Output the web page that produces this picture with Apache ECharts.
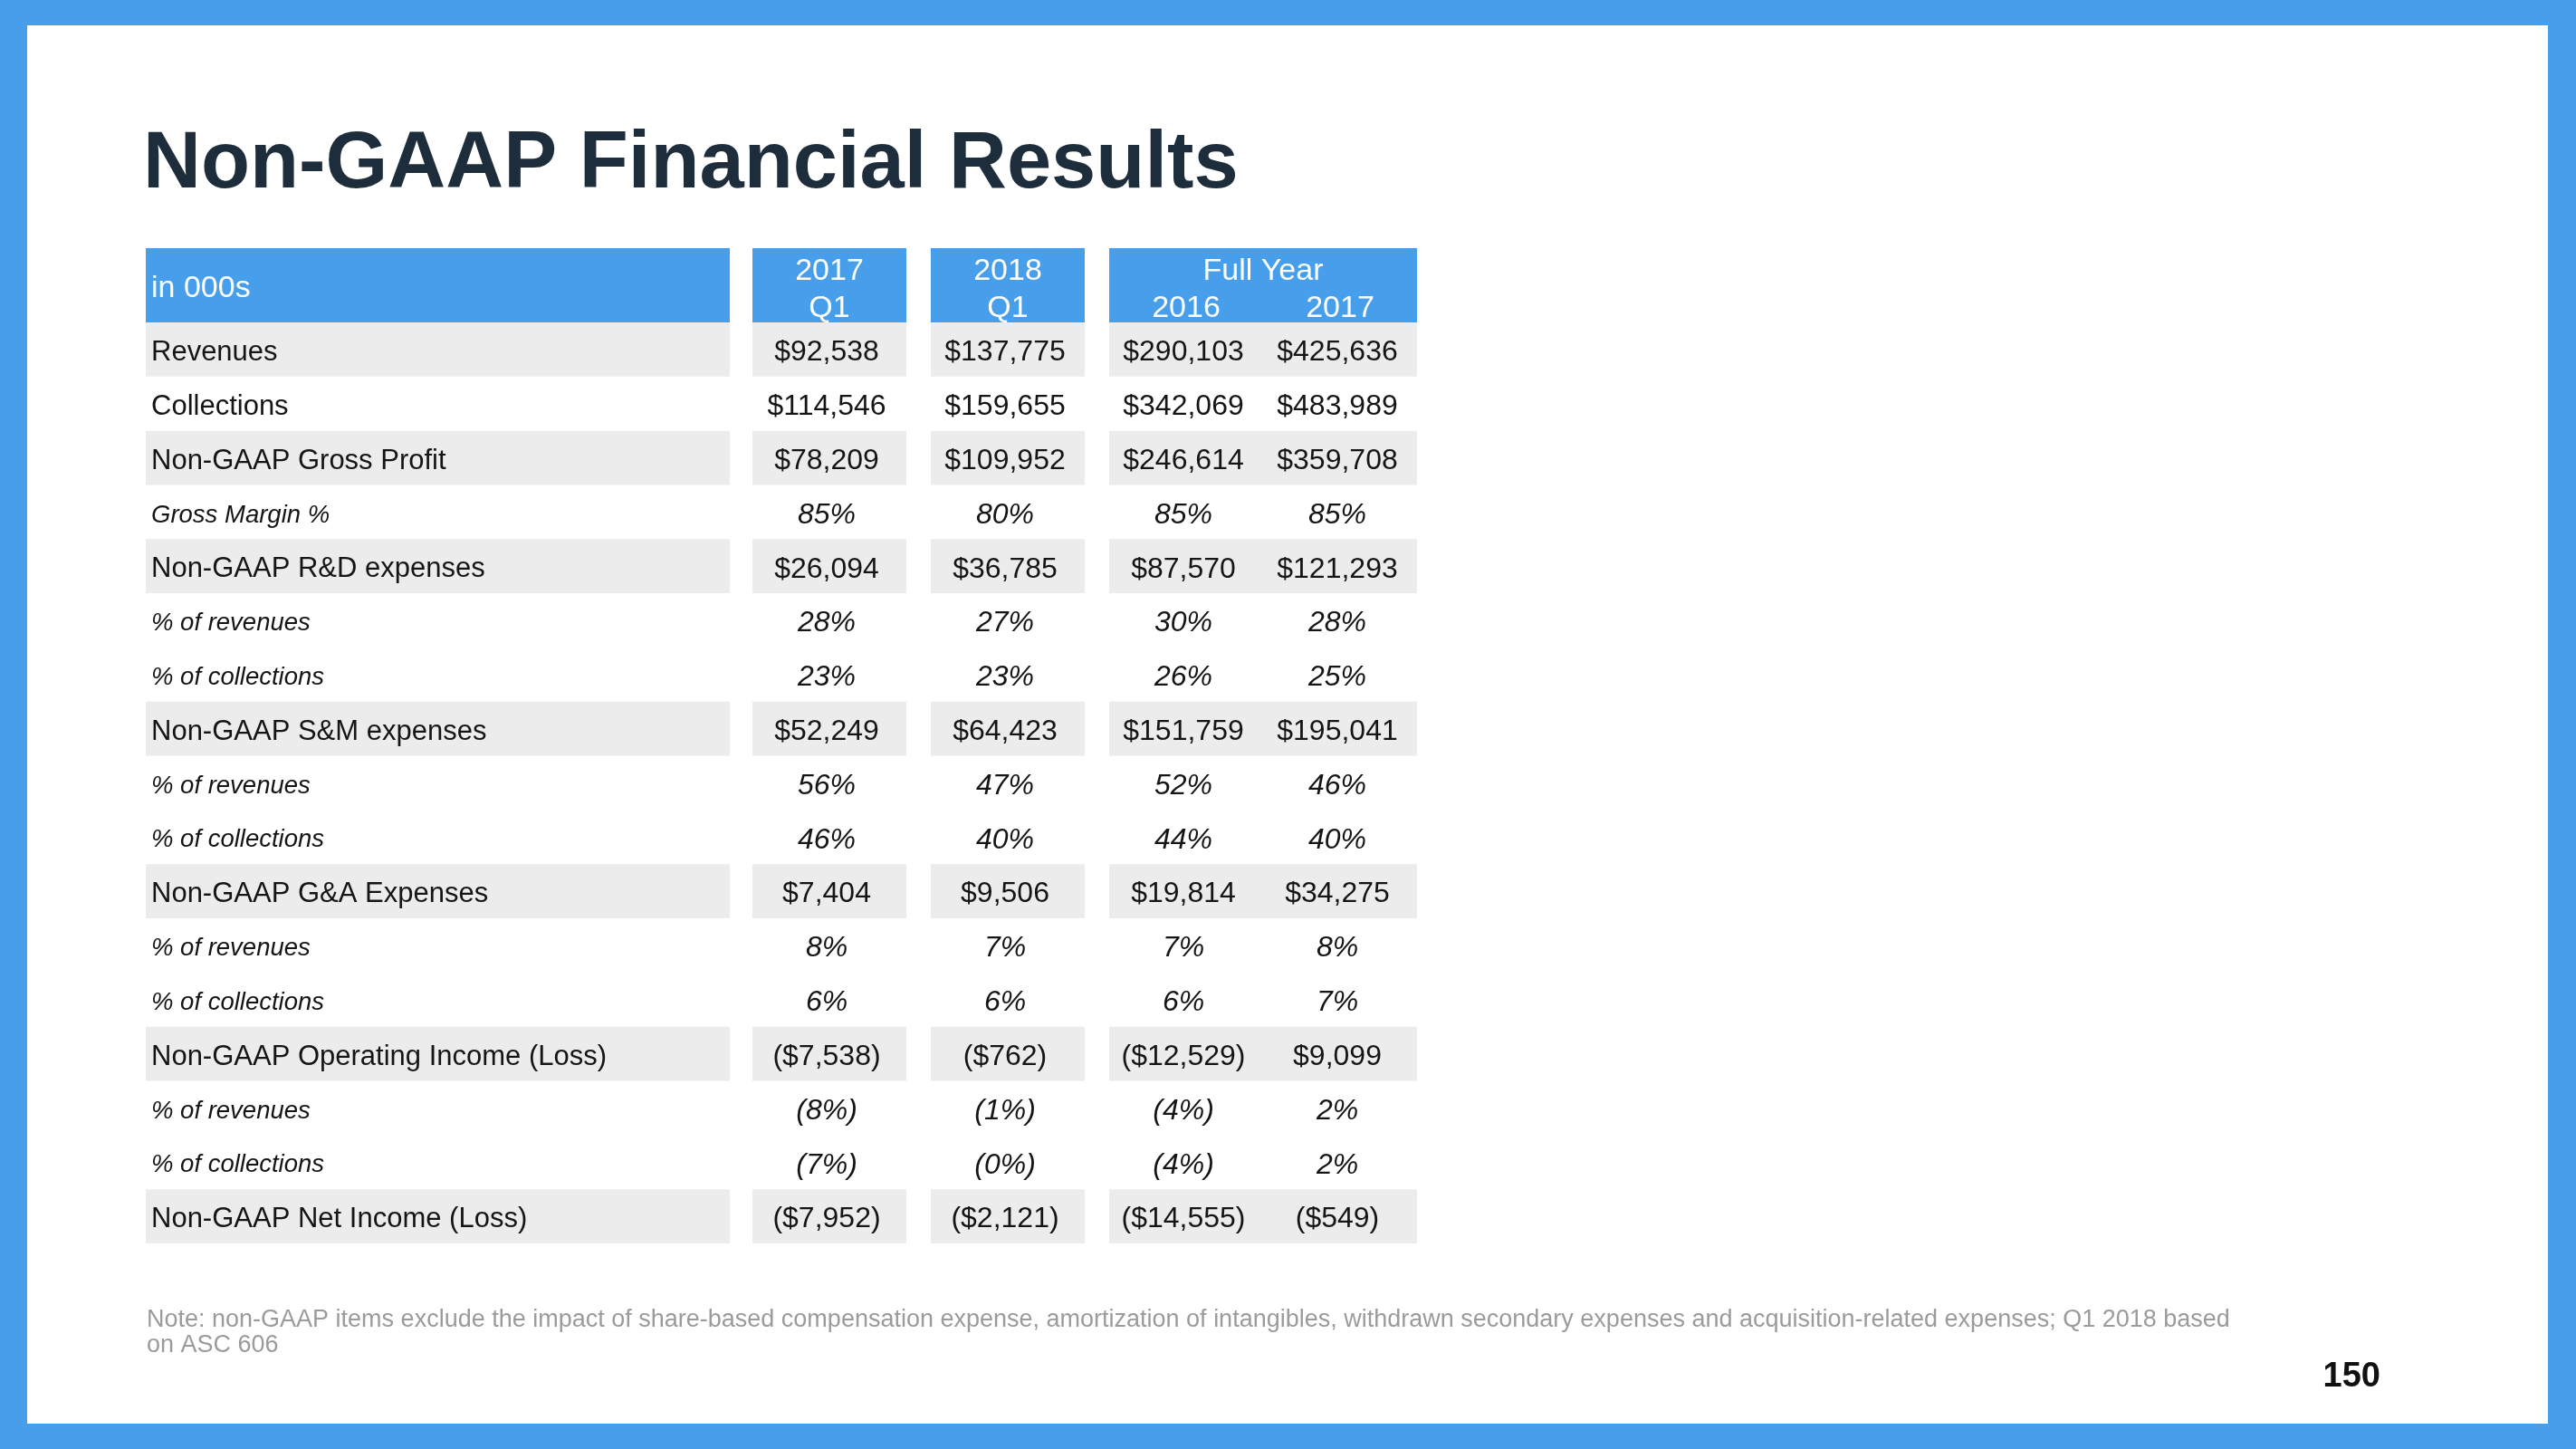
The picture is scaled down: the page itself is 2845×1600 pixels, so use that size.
<!DOCTYPE html>
<html>
<head>
<meta charset="utf-8">
<script src="https://cdn.jsdelivr.net/npm/echarts@6/dist/echarts.min.js"></script>
<style>
html,body{margin:0;padding:0;background:#ffffff;}
#chart{width:2845px;height:1600px;}
</style>
</head>
<body>
<div id="chart"></div>
<script>
// ---------------- DATA ----------------
const titleText = 'Non-GAAP Financial Results';
const cornerLabel = 'in 000s';
const headerGroups = ['2017', '2018', 'Full Year'];
const headerGroupSpan = [1, 1, 2];
const headerSubs = ['Q1', 'Q1', '2016', '2017'];

const rowLabels = [
  'Revenues',
  'Collections',
  'Non-GAAP Gross Profit',
  'Gross Margin %',
  'Non-GAAP R&D expenses',
  '% of revenues',
  '% of collections',
  'Non-GAAP S&M expenses',
  '% of revenues',
  '% of collections',
  'Non-GAAP G&A Expenses',
  '% of revenues',
  '% of collections',
  'Non-GAAP Operating Income (Loss)',
  '% of revenues',
  '% of collections',
  'Non-GAAP Net Income (Loss)'
];
const rowKinds = ['amount','amount','amount','pct','amount','pct','pct','amount','pct','pct','amount','pct','pct','amount','pct','pct','amount'];

const q1_2017 = [92538, 114546, 78209, 85, 26094, 28, 23, 52249, 56, 46, 7404, 8, 6, -7538, -8, -7, -7952];
const q1_2018 = [137775, 159655, 109952, 80, 36785, 27, 23, 64423, 47, 40, 9506, 7, 6, -762, -1, -0, -2121];
const fy_2016 = [290103, 342069, 246614, 85, 87570, 30, 26, 151759, 52, 44, 19814, 7, 6, -12529, -4, -4, -14555];
const fy_2017 = [425636, 483989, 359708, 85, 121293, 28, 25, 195041, 46, 40, 34275, 8, 7, 9099, 2, 2, -549];

const noteText = 'Note: non-GAAP items exclude the impact of share-based compensation expense, amortization of intangibles, withdrawn secondary expenses and acquisition-related expenses; Q1 2018 based\non ASC 606';
const pageNumber = '150';

// ---------------- LAYOUT & STYLE ----------------
const valueColumns = [q1_2017, q1_2018, fy_2016, fy_2017];
const LAY = {
  tableLeft: 161, tableWidth: 1404,
  headerTop: 274, headerH: 82,
  bodyTop: 356, bodyH: 1017,
  colLeft: [0, 670, 867, 1064, 1234],
  colWidth: [645, 170, 170, 170, 170],
  labelPad: 6, valueShift: -3, textDy: 3.5
};
const shadedRows = [0, 2, 4, 7, 10, 13, 16];
const FONT = '"Liberation Sans", Arial, sans-serif';
const BLUE = '#479feb';
const GRAY = '#ececec';
const INK = '#151515';

function isNeg(v) { return v < 0 || Object.is(v, -0); }
function fmt(v, kind) {
  const a = Math.abs(v);
  let s = kind === 'amount' ? '$' + a.toLocaleString('en-US') : a + '%';
  return isNeg(v) ? '(' + s + ')' : s;
}
function txt(x, y, text, font, fill, align, valign, extra) {
  return {
    type: 'text', x: x, y: y, silent: true,
    style: Object.assign({
      text: text, font: font, fill: fill,
      textAlign: align, align: align,
      textVerticalAlign: valign, verticalAlign: valign
    }, extra || {})
  };
}

// body data: [colIndex, rowIndex]
const bodyData = [];
rowLabels.forEach((_, r) => { for (let c = 0; c < 5; c++) bodyData.push([c, r]); });
// header data: [groupIndex] (0 = corner)
const headerData = [[0, 0], [1, 0], [2, 0], [3, 0]];

const chart = echarts.init(document.getElementById('chart'), null, { renderer: 'canvas' });

chart.setOption({
  backgroundColor: BLUE,
  animation: false,
  grid: [
    { left: LAY.tableLeft, top: LAY.headerTop, width: LAY.tableWidth, height: LAY.headerH, containLabel: false },
    { left: LAY.tableLeft, top: LAY.bodyTop, width: LAY.tableWidth, height: LAY.bodyH, containLabel: false }
  ],
  xAxis: [
    { gridIndex: 0, type: 'value', min: 0, max: LAY.tableWidth, show: false },
    { gridIndex: 1, type: 'value', min: 0, max: LAY.tableWidth, show: false }
  ],
  yAxis: [
    { gridIndex: 0, type: 'category', data: ['header'], show: false, inverse: true },
    { gridIndex: 1, type: 'category', data: rowLabels, show: false, inverse: true }
  ],
  graphic: [
    { type: 'rect', z: -10, silent: true, shape: { x: 30, y: 28, width: 2784, height: 1544 }, style: { fill: '#ffffff' } },
    txt(158, 183, titleText, 'bold 88.5px ' + FONT, '#1e2d3b', 'left', 'middle'),
    txt(162, 1472, noteText, '27px ' + FONT, '#9b9b9b', 'left', 'middle', { lineHeight: 28 }),
    txt(2629, 1521, pageNumber, 'bold 38px ' + FONT, '#111111', 'right', 'middle')
  ],
  series: [
    {
      type: 'custom', xAxisIndex: 0, yAxisIndex: 0, silent: true,
      data: headerData,
      renderItem: function (params, api) {
        const g = api.value(0);
        const h = api.size([0, 1])[1];
        let startCol, span;
        if (g === 0) { startCol = 0; span = 1; }
        else {
          startCol = 1;
          for (let i = 0; i < g - 1; i++) startCol += headerGroupSpan[i];
          span = headerGroupSpan[g - 1];
        }
        let width = 0;
        for (let i = 0; i < span; i++) width += LAY.colWidth[startCol + i];
        const p = api.coord([LAY.colLeft[startCol], 0]);
        const wpx = api.size([width, 0])[0];
        const top = p[1] - h / 2;
        const children = [{ type: 'rect', shape: { x: p[0], y: top, width: wpx, height: h }, style: { fill: BLUE } }];
        const f = '34px ' + FONT;
        const dy = LAY.textDy;
        if (g === 0) {
          children.push(txt(p[0] + LAY.labelPad, p[1] + dy, cornerLabel, f, '#ffffff', 'left', 'middle'));
        } else {
          children.push(txt(p[0] + wpx / 2, top + 22 + dy, headerGroups[g - 1], f, '#ffffff', 'center', 'middle'));
          for (let i = 0; i < span; i++) {
            const c = startCol + i;
            const cx = api.coord([LAY.colLeft[c] + LAY.colWidth[c] / 2, 0])[0];
            children.push(txt(cx, top + 63 + dy, headerSubs[c - 1], f, '#ffffff', 'center', 'middle'));
          }
        }
        return { type: 'group', children: children };
      }
    },
    {
      type: 'custom', xAxisIndex: 1, yAxisIndex: 1, silent: true,
      data: bodyData,
      renderItem: function (params, api) {
        const c = api.value(0), r = api.value(1);
        const p = api.coord([LAY.colLeft[c], r]);
        const wpx = api.size([LAY.colWidth[c], 0])[0];
        const h = api.size([0, 1])[1];
        const top = p[1] - h / 2;
        const children = [];
        if (shadedRows.indexOf(r) >= 0) {
          children.push({ type: 'rect', shape: { x: p[0], y: top, width: wpx, height: h }, style: { fill: GRAY } });
        }
        const kind = rowKinds[r];
        const y = p[1] + LAY.textDy;
        if (c === 0) {
          const f = kind === 'pct' ? 'italic 27.5px ' + FONT : '31px ' + FONT;
          children.push(txt(p[0] + LAY.labelPad, y, rowLabels[r], f, INK, 'left', 'middle'));
        } else {
          const v = valueColumns[c - 1][r];
          const f = (kind === 'pct' ? 'italic ' : '') + '32px ' + FONT;
          children.push(txt(p[0] + wpx / 2 + LAY.valueShift, y, fmt(v, kind), f, INK, 'center', 'middle'));
        }
        return { type: 'group', children: children };
      }
    }
  ]
});
</script>
</body>
</html>
